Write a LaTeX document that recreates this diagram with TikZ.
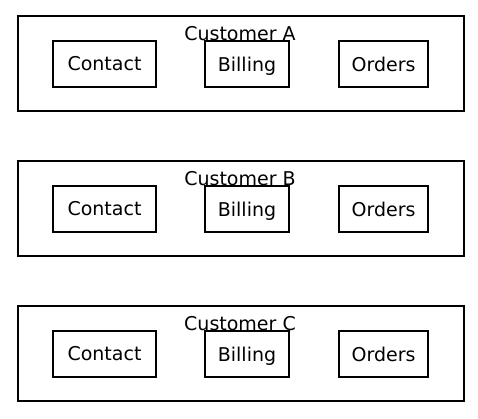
\documentclass[tikz,border=0pt]{standalone}
\usepackage{fontspec}
\setmainfont{DejaVu Sans}
\begin{document}
\begin{tikzpicture}[x=1pt,y=-1pt,
  outer/.style={draw, line width=1.4pt},
  inner/.style={draw, line width=1.4pt, font=\fontsize{19}{22}\selectfont},
  title/.style={font=\fontsize{19}{22}\selectfont, inner sep=0pt}]
\useasboundingbox (0,0) rectangle (478,418);
\foreach \g/\oy in {A/0, B/145, C/290} {
  \draw[outer] (18,{16+\oy}) rectangle (464,{111+\oy});
  \node[title] (t\g) at (240,{34+\oy}) {Customer \g};
  \draw[inner] (53,{41+\oy}) rectangle node (c\g) {Contact} (156,{87+\oy});
  \draw[inner] (205,{41+\oy}) rectangle node[text depth=0pt] (b\g) {Billing} (289,{87+\oy});
  \draw[inner] (339,{41+\oy}) rectangle node (o\g) {Orders} (428,{87+\oy});
}
\end{tikzpicture}
\end{document}
